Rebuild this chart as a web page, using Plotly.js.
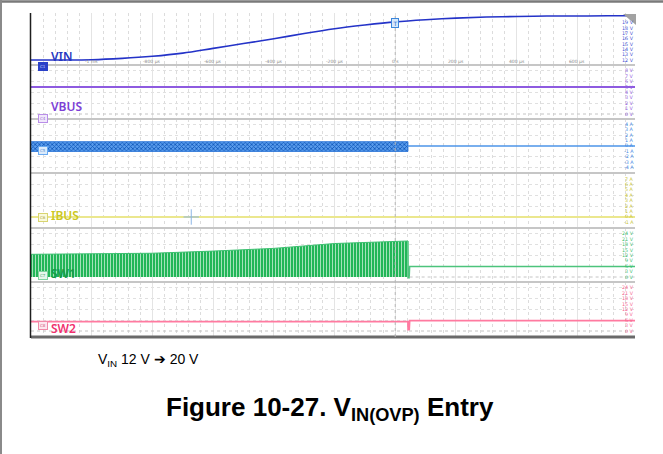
<!DOCTYPE html>
<html><head><meta charset="utf-8">
<script src="https://cdn.plot.ly/plotly-3.0.1.min.js"></script>
<style>html,body{margin:0;padding:0;background:#fff}#chart{width:663px;height:454px}</style>
</head><body><div id="chart"></div>
<script>
// ---- data (time in µs) ----
const vinTime  = [-1200,-1100,-1000,-900,-800,-700,-600,-500,-400,-300,-200,-100,0,100,200,300,400,500,600,700,790];
const vinVolts = [12.0,12.0,12.05,12.3,12.7,13.3,14.2,15.1,16.0,17.0,17.9,18.6,19.2,19.6,19.9,20.1,20.2,20.3,20.3,20.35,20.35];
const vbusTime  = [-1200, 790];
const vbusVolts = [5.0, 5.0];
const c5Time  = [-1200, 42];
const c5High  = [0.8, 0.8];
const c5Low   = [-1.0, -1.0];
const c5OffTime = [42, 790];
const c5OffAmps = [0, 0];
const ibusTime = [-1200, 790];
const ibusAmps = [0, 0];
const sw1Time = [-1200,-1000,-800,-600,-400,-200,0,42];
const sw1Peak = [12.6,12.7,13.2,14.4,15.9,18.6,19.6,20.0];
const sw1OffTime  = [42, 42.5, 46, 47.5, 790];
const sw1OffVolts = [20, -0.4, -0.4, 5.9, 5.9];
const sw2Time  = [-1200, 42, 42.5, 46, 47.5, 790];
const sw2Volts = [5.2, 5.2, 0.8, 0.8, 5.8, 5.8];
const cursorTime = [-672];
const cursorAmps = [0];

const timeTicks  = [-1000,-800,-600,-400,-200,0,200,400,600];
const timeLabels = ["-1 ms","-800 µs","-600 µs","-400 µs","-200 µs","0 s","200 µs","400 µs","600 µs"];
const vinTicks  = [12,13,14,15,16,17,18,19];
const vbusTicks = [0,1,2,3,4,5,6,7,8];
const c5Ticks   = [-4,-3,-2,-1,0,1,2,3,4];
const ibusTicks = [-1,0,1,2,3,4,5,6,7];
const swTicks   = [0,3,6,9,12,15,18,21,24];

// ---- geometry helpers ----
const W = 663, H = 454;
const PX = x => x / W, PY = y => 1 - y / H;
const L = 31, R = 635;

function yax(top, bot, range, mdt, m0){
  return {
    domain:[PY(bot), PY(top)], range:range, anchor:'x', side:'right',
    showticklabels:false, ticks:'', showgrid:false, zeroline:false, showline:false, fixedrange:true,
    minor:{tickmode:'linear', tick0:m0, dtick:mdt, showgrid:true, griddash:'dot', gridcolor:'#e0e0e0', gridwidth:1, ticks:''}
  };
}

const traces = [
  {x:vinTime, y:vinVolts, yaxis:'y', mode:'lines', line:{color:'#2433c8', width:1.6, shape:'spline'}},
  {x:vbusTime, y:vbusVolts, yaxis:'y2', mode:'lines', line:{color:'#8e5be0', width:2}},
  {x:c5Time.concat(c5Time.slice().reverse()), y:c5High.concat(c5Low.slice().reverse()), yaxis:'y3', mode:'lines',
   fill:'toself', fillcolor:'#2f80e0', line:{color:'#1a6ad4', width:0.8},
   fillpattern:{shape:'x', fgcolor:'#0c55b8', bgcolor:'#5a9cec', size:3, solidity:0.45}},
  {x:c5OffTime, y:c5OffAmps, yaxis:'y3', mode:'lines', line:{color:'#4d94e8', width:1.5}},
  {x:ibusTime, y:ibusAmps, yaxis:'y4', mode:'lines', line:{color:'#ebe78e', width:2}},
  {x:cursorTime, y:cursorAmps, yaxis:'y4', mode:'markers', marker:{symbol:'cross-thin', size:11, line:{color:'#8db6e6', width:1}}},
  {x:sw1Time, y:sw1Peak, yaxis:'y5', mode:'lines', fill:'tozeroy', fillcolor:'#25b75b',
   line:{color:'#3cc070', width:1},
   fillpattern:{shape:'|', fgcolor:'#a3e2ba', bgcolor:'#22b658', size:3, solidity:0.35}},
  {x:sw1OffTime, y:sw1OffVolts, yaxis:'y5', mode:'lines', line:{color:'#4cc47c', width:1.5}},
  {x:sw2Time, y:sw2Volts, yaxis:'y6', mode:'lines', line:{color:'#ff7aa0', width:1.8}}
];

const hl = (y, color, w) => ({type:'line', xref:'paper', yref:'paper', x0:PX(L), x1:PX(R), y0:PY(y), y1:PY(y), line:{color:color, width:w}});

const shapes = [
  {type:'line', xref:'paper', yref:'paper', x0:0, x1:1, y0:PY(1.5), y1:PY(1.5), line:{color:'#7a7a7a', width:2.5}},
  {type:'line', xref:'paper', yref:'paper', x0:PX(1), x1:PX(1), y0:0, y1:1, line:{color:'#8a8a8a', width:2}},
  hl(65,'#c6c6c6',2), hl(119,'#c6c6c6',2), hl(173,'#c6c6c6',2), hl(228,'#c6c6c6',2), hl(282,'#c6c6c6',2),
  hl(337,'#6a6a6a',3),
  {type:'line', xref:'paper', yref:'y2', x0:PX(L), x1:PX(R), y0:0, y1:0, line:{color:'#c4c4c4', width:1, dash:'dot'}},
  {type:'line', xref:'x', yref:'y5', x0:47.5, x1:790, y0:0, y1:0, line:{color:'#c4c4c4', width:1, dash:'dot'}},
  {type:'line', xref:'paper', yref:'y6', x0:PX(L), x1:PX(R), y0:0, y1:0, line:{color:'#c4c4c4', width:1, dash:'dot'}},
  {type:'line', xref:'x', yref:'paper', x0:0, x1:0, y0:PY(337), y1:PY(13), line:{color:'#b8b8b8', width:1, dash:'dot'}},
  {type:'line', xref:'paper', yref:'paper', x0:PX(30.5), x1:PX(30.5), y0:PY(338), y1:PY(13), line:{color:'#1e1e1e', width:1.5}},
  {type:'path', xref:'paper', yref:'paper', fillcolor:'#a2a2a2', line:{width:0},
   path:`M ${PX(623)} ${PY(14)} L ${PX(636)} ${PY(14)} L ${PX(636)} ${PY(25)} Z`}
];

function tag(y, text, bg, border, fc){
  return {xref:'paper', yref:'paper', x:PX(37.5), y:PY(y), text:text, showarrow:false,
    font:{family:'DejaVu Sans', size:4, color:fc}, bgcolor:bg, bordercolor:border, borderwidth:1, borderpad:1};
}
function name(y, text, color){
  return {xref:'paper', yref:'paper', x:PX(48.5), y:PY(y), xanchor:'left', yanchor:'middle', text:text, showarrow:false,
    font:{family:'Noto Sans', size:12, weight:600, color:color}};
}
function scaleLabels(ticks, unit, yref, color){
  return ticks.map(v => ({xref:'paper', yref:yref, x:PX(636), y:v, xanchor:'right', yanchor:'middle',
    text:v + ' ' + unit, showarrow:false, font:{family:'DejaVu Sans', size:4.8, color:color}}));
}
const timeAnn = timeTicks.map((t, i) => ({xref:'x', yref:'paper', x:t, y:PY(61.5), xanchor:'center', yanchor:'middle',
  text:timeLabels[i], showarrow:false, font:{family:'DejaVu Sans', size:4.5, color:'#8a8a8a'}}));

const annotations = [
  tag(62, 'C1', '#2a40c8', '#2a40c8', '#c8d0ff'),
  tag(114, 'C4', '#f1e8fb', '#b98ee8', '#9a70d0'),
  tag(146, 'C5', '#dcebfb', '#6aaaf0', '#5a8ed0'),
  tag(217, 'C6', '#fafadc', '#d8d470', '#a8a440'),
  tag(275, 'C7', '#e6f7ec', '#7fd39f', '#4fa870'),
  tag(330, 'C8', '#fde6ee', '#f08aa8', '#d0607f'),
  name(56.5, 'VIN', '#2636c0'),
  name(106.5, 'VBUS', '#7d3fd6'),
  name(216, 'IBUS', '#cbc722'),
  name(273, 'SW1', '#189a48'),
  name(328, 'SW2', '#f0306e'),
  {xref:'x', yref:'paper', x:0, y:PY(17.5), text:'T', showarrow:false,
   font:{family:'DejaVu Sans', size:6, color:'#1f6fd0'}, bgcolor:'#d6e8fb', bordercolor:'#3b86db', borderwidth:1, borderpad:0.5},
  {xref:'paper', yref:'paper', x:PX(96), y:PY(360), xanchor:'left', yanchor:'middle', showarrow:false,
   text:'V<sub>IN</sub> 12 V ➔ 20 V', font:{family:'Liberation Sans', size:14, color:'#000'}},
  {xref:'paper', yref:'paper', x:PX(330), y:PY(408), xanchor:'center', yanchor:'middle', showarrow:false,
   text:'<b>Figure 10-27. V<sub>IN(OVP)</sub> Entry</b>', font:{family:'Liberation Sans', size:26, color:'#000'}}
].concat(timeAnn,
  scaleLabels(vinTicks, 'V', 'y', '#3f4fd4'),
  scaleLabels(vbusTicks, 'V', 'y2', '#9460e0'),
  scaleLabels(c5Ticks, 'A', 'y3', '#3d88e4'),
  scaleLabels(ibusTicks, 'A', 'y4', '#c8c430'),
  scaleLabels(swTicks, 'V', 'y5', '#3fbf70'),
  scaleLabels(swTicks, 'V', 'y6', '#f5648e'));

const layout = {
  width:W, height:H, margin:{l:0, r:0, t:0, b:0},
  paper_bgcolor:'#fff', plot_bgcolor:'#fff', showlegend:false, hovermode:false,
  xaxis:{domain:[PX(L), PX(R)], range:[-1200, 790], anchor:'y', side:'bottom',
    tickmode:'array', tickvals:timeTicks, showticklabels:false, ticks:'',
    showgrid:true, gridcolor:'#e4e4e4', gridwidth:1, zeroline:false, showline:false, fixedrange:true,
    minor:{tickmode:'linear', tick0:0, dtick:40, showgrid:true, griddash:'dot', gridcolor:'#dcdcdc', gridwidth:1, ticks:''}},
  yaxis:  yax(13, 65,  [11.057, 20.868], 2, 12),
  yaxis2: yax(65, 119, [-0.926, 9.074], 2, 0),
  yaxis3: yax(119, 173, [-5.0, 5.0], 2, 0),
  yaxis4: yax(173, 228, [-2.04, 8.15], 2, 0),
  yaxis5: yax(228, 282, [-2.78, 27.22], 6, 0),
  yaxis6: yax(282, 337, [-3.33, 27.22], 6, 0),
  shapes:shapes, annotations:annotations
};

Plotly.newPlot('chart', traces, layout, {staticPlot:true, displayModeBar:false});
</script></body></html>
